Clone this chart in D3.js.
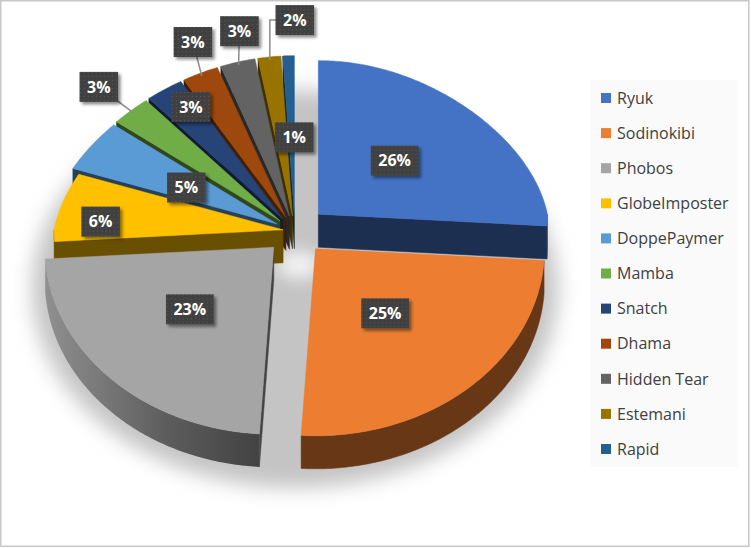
<!DOCTYPE html>
<html><head><meta charset="utf-8">
<script src="https://cdn.jsdelivr.net/npm/d3@7"></script>
<style>html,body{margin:0;padding:0;background:#fff}svg{display:block}</style>
</head><body>
<svg id="c" width="751" height="548"></svg>
<script>
// ---------- data ----------
const categories = ["Ryuk","Sodinokibi","Phobos","GlobeImposter","DoppePaymer","Mamba","Snatch","Dhama","Hidden Tear","Estemani","Rapid"];
const values = [26,25,23,6,5,3,3,3,3,2,1];
const labelTexts = ["26%","25%","23%","6%","5%","3%","3%","3%","3%","2%","1%"];
const colors = ["#4472C4","#ED7D31","#A5A5A5","#FFC000","#5B9BD5","#70AD47","#264478","#9E480E","#636363","#997300","#255E91"];

// ---------- style / layout config ----------
const G = {cx:295, cy:231, rx:229, ryTop:160, ryBot:187, depth:33, narrow:0.2, pTop:0.9, tilt:0.766};
const explode = [32,31,30,12,20,20,20,20,20,20,20];
const radiusY = [0.96,1,1,1,1,1,1,1,1,1,1];
const labelPlace = [
  {rf:0.49,  dx:0,  dy:0},
  {rf:0.46,  dx:0,  dy:0},
  {rf:0.5,   dx:-3, dy:-4},
  {rf:0.82,  dx:0,  dy:12},
  {rf:0.465, dx:0,  dy:0},
  {rf:1.215, dx:-6, dy:0, leader:"straight"},
  {rf:0.865, dx:13, dy:0},
  {rf:1.216, dx:6,  dy:0, leader:"straight"},
  {rf:1.2,   dx:9,  dy:0, leader:"straight"},
  {rf:1.232, dx:29, dy:0, leader:"elbow"},
  {rf:0.49,  dx:3,  dy:0}
];

const svg = d3.select("#c");
const defs = svg.append("defs");
defs.append("filter").attr("id","blur").attr("x","-30%").attr("y","-30%").attr("width","160%").attr("height","160%")
  .append("feGaussianBlur").attr("stdDeviation",10);
defs.append("filter").attr("id","blur2").attr("x","-50%").attr("y","-50%").attr("width","200%").attr("height","200%")
  .append("feGaussianBlur").attr("stdDeviation",8);
const fsh = defs.append("filter").attr("id","lblsh").attr("x","-30%").attr("y","-30%").attr("width","170%").attr("height","170%");
fsh.append("feDropShadow").attr("dx",2.5).attr("dy",2.5).attr("stdDeviation",1.8).attr("flood-color","#000").attr("flood-opacity",0.45);
const pat = defs.append("pattern").attr("id","dots").attr("width",4).attr("height",4).attr("patternUnits","userSpaceOnUse");
pat.append("rect").attr("width",4).attr("height",4).attr("fill","#404040");
pat.append("rect").attr("x",1).attr("y",1).attr("width",1).attr("height",1).attr("fill","#5a5a5a");
const pg = defs.append("linearGradient").attr("id","phobosWall").attr("gradientUnits","userSpaceOnUse")
  .attr("x1",40).attr("y1",0).attr("x2",275).attr("y2",0);
pg.append("stop").attr("offset",0).attr("stop-color","#929292");
pg.append("stop").attr("offset",0.55).attr("stop-color","#5c5c5c");
pg.append("stop").attr("offset",1).attr("stop-color","#3e3e3e");

// background + border
svg.append("rect").attr("x",0).attr("y",0).attr("width",751).attr("height",548).attr("fill","#fff");
svg.append("rect").attr("x",0.75).attr("y",0.75).attr("width",748).attr("height",545.5)
  .attr("fill","none").attr("stroke","#c8c8c8").attr("stroke-width",1.5);

// soft shadow under the pie
svg.append("ellipse").attr("cx",G.cx).attr("cy",G.cy+58).attr("rx",G.rx+34).attr("ry",G.ryBot+12)
  .attr("fill","#c4c4c4").attr("filter","url(#blur)");
svg.append("ellipse").attr("cx",G.cx+4).attr("cy",G.cy+34).attr("rx",22).attr("ry",14)
  .attr("fill","#f2f2f2").attr("filter","url(#blur2)");

// ---------- projection ----------
function proj(t, f, c, z, ys){
  const s = Math.sin(t), co = Math.cos(t);
  const nar = 1 - G.narrow*Math.max(0,co)*f;
  const yo = co > 0 ? G.ryTop*ys*Math.pow(co, G.pTop) : G.ryBot*co;
  return [c[0] + G.rx*f*s*nar, c[1] - yo*f + z*G.depth];
}
function arcPts(a0,a1,f,c,z,ys){
  const n = Math.max(2, Math.ceil((a1-a0)/(Math.PI/240)));
  const pts = [];
  for(let k=0;k<=n;k++){ const t=a0+(a1-a0)*k/n; pts.push(proj(t,f,c,z,ys)); }
  return pts;
}
const toPath = pts => "M" + pts.map(p=>p[0].toFixed(2)+","+p[1].toFixed(2)).join("L") + "Z";

const arcs = d3.pie().sort(null).value(d=>d)(values);
const slices = arcs.map((a,i)=>{
  const m = (a.startAngle + a.endAngle)/2;
  const c = [G.cx + explode[i]*Math.sin(m), G.cy - explode[i]*Math.cos(m)*G.tilt];
  return {i, a0:a.startAngle, a1:a.endAngle, m, c, ys:radiusY[i]};
});

// painter's order: far (top of picture) first
const order = slices.slice().sort((p,q)=>Math.cos(q.m)-Math.cos(p.m));

const gPie = svg.append("g");
order.forEach(s=>{
  const g = gPie.append("g");
  const col = colors[s.i];
  const wallCol = d3.color(col).darker(2.3).formatHex();
  const sideCol = d3.color(col).darker(2.5).formatHex();
  const apexT = [s.c[0], s.c[1]], apexB = [s.c[0], s.c[1]+G.depth];
  if (Math.sin(s.a0) < -1e-6){
    g.append("path").attr("d", toPath([apexT, proj(s.a0,1,s.c,0,s.ys), proj(s.a0,1,s.c,1,s.ys), apexB]))
      .attr("fill", sideCol).attr("stroke",sideCol).attr("stroke-width",0.5);
  }
  if (Math.sin(s.a1) > 1e-6){
    g.append("path").attr("d", toPath([apexT, proj(s.a1,1,s.c,0,s.ys), proj(s.a1,1,s.c,1,s.ys), apexB]))
      .attr("fill", sideCol).attr("stroke",sideCol).attr("stroke-width",0.5);
  }
  const lo = Math.max(s.a0, Math.PI/2), hi = Math.min(s.a1, 3*Math.PI/2);
  if (lo < hi){
    const top = arcPts(lo,hi,1,s.c,0,s.ys), bot = arcPts(lo,hi,1,s.c,1,s.ys).reverse();
    g.append("path").attr("d", toPath(top.concat(bot)))
      .attr("fill", s.i===2 ? "url(#phobosWall)" : wallCol)
      .attr("stroke", s.i===2 ? "none" : wallCol).attr("stroke-width",0.5);
  }
  g.append("path").attr("d", toPath([apexT].concat(arcPts(s.a0,s.a1,1,s.c,0,s.ys))))
    .attr("fill", col).attr("stroke", col).attr("stroke-width",0.5);
});

// ---------- data labels ----------
const gLbl = svg.append("g");
slices.forEach(s=>{
  const lp = labelPlace[s.i];
  const p = proj(s.m, lp.rf, s.c, 0, s.ys);
  const x = p[0] + lp.dx, y = p[1] + lp.dy;
  if (lp.leader){
    const e = proj(s.m, 0.98, s.c, 0, s.ys);
    const d = lp.leader === "elbow" ? `M${x},${y}L${e[0]},${y}L${e[0]},${e[1]}` : `M${x},${y}L${e[0]},${e[1]}`;
    gLbl.append("path").attr("d", d).attr("fill","none").attr("stroke","#8c8c8c").attr("stroke-width",1.5);
  }
  const g = gLbl.append("g").attr("transform", `translate(${x},${y})`);
  const rect = g.append("rect").attr("fill","url(#dots)").attr("filter","url(#lblsh)");
  const t = g.append("text").attr("text-anchor","middle").attr("dy","0.36em")
    .attr("font-family","'Open Sans', 'DejaVu Sans', sans-serif").attr("font-weight",700)
    .attr("font-size","16px").attr("fill","#fff").text(labelTexts[s.i]);
  const w = t.node().getComputedTextLength() + 15, h = 30;
  rect.attr("x",-w/2).attr("y",-h/2).attr("width",w).attr("height",h);
});

// ---------- legend ----------
const leg = svg.append("g");
leg.append("rect").attr("x",591).attr("y",80).attr("width",147).attr("height",387).attr("fill","#fafafa");
const ly = d3.scalePoint().domain(categories).range([98, 449]);
categories.forEach((cName,i)=>{
  const y = ly(cName);
  leg.append("rect").attr("x",601).attr("y",y-5).attr("width",10).attr("height",10).attr("fill",colors[i]);
  leg.append("text").attr("x",617).attr("y",y).attr("dy","0.36em")
    .attr("font-family","'Open Sans', sans-serif").attr("font-size","16px").attr("fill","#404040").text(cName);
});
</script>
</body></html>
